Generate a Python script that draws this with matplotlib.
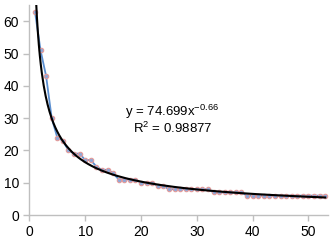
import matplotlib
matplotlib.use('Agg')
import matplotlib.pyplot as plt
import numpy as np

plt.rcParams['font.family'] = ['Liberation Sans', 'DejaVu Sans']
plt.rcParams['mathtext.default'] = 'regular'

# data (x = 1..53)
x_vals = list(range(1, 54))
y_vals = [63, 51, 43, 30, 24, 23, 20, 19, 19, 17,
          17, 15, 14, 14, 13, 11, 11, 11, 11, 10,
          10, 10, 9, 9, 8, 8, 8, 8, 8, 8,
          8, 8, 7, 7, 7, 7, 7, 7, 6, 6,
          6, 6, 6, 6, 6, 6, 6, 6, 6, 6,
          6, 6, 6]

# power trendline y = a * x^b
fit_a = 74.699
fit_b = -0.66
fit_r2 = 0.98877

x_ticks = [0, 10, 20, 30, 40, 50]
y_ticks = [0, 10, 20, 30, 40, 50, 60]

fig = plt.figure(figsize=(3.3, 2.4), dpi=100)
ax = fig.add_axes([0.089, 0.104, 0.905, 0.875])

ax.plot(x_vals, y_vals, color='#5B8FD0', lw=1.3, marker='o', ms=3.2,
        mfc='#8FA8D8', mec='#E39A9A', mew=0.8, zorder=2)

xf = np.linspace(1, 53, 300)
ax.plot(xf, fit_a * xf ** fit_b, color='black', lw=1.5, zorder=3)

# trendline label (one block, two lines)
label = 'y = 74.699x$^{-0.66}$\nR$^2$ = %.5f' % fit_r2
ax.text(25.6, 29.6, label, ha='center', va='center', multialignment='center',
        fontsize=9.5, linespacing=1.05)

ax.set_xlim(0, 53.5)
ax.set_ylim(0, 65)
ax.set_xticks(x_ticks)
ax.set_yticks(y_ticks)

for side in ['top', 'right']:
    ax.spines[side].set_visible(False)
for side in ['left', 'bottom']:
    ax.spines[side].set_color('#BFBFBF')
    ax.spines[side].set_linewidth(1.0)
ax.tick_params(axis='both', colors='#BFBFBF', length=4, width=1.0,
               labelcolor='black', labelsize=10)

fig.savefig('out.png', dpi=100)
